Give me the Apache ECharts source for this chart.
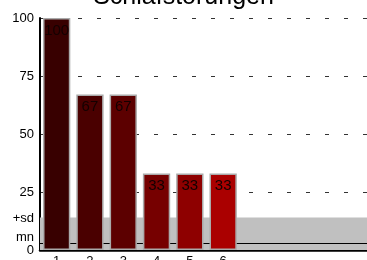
<!DOCTYPE html>
<html>
<head>
<meta charset="utf-8">
<script src="https://cdn.jsdelivr.net/npm/echarts@6/dist/echarts.min.js"></script>
<style>
html, body { margin: 0; padding: 0; background: #fff; }
#chart { width: 367px; height: 260px; }
</style>
</head>
<body>
<div id="chart"></div>
<script>
// Daten
const categories = ['1', '2', '3', '4', '5', '6', '', '', '', ''];
const values = [100, 67, 67, 33, 33, 33];
const barColors = ['#380000', '#4a0000', '#5c0000', '#760000', '#8e0000', '#aa0000'];
const yTicks = [0, 25, 50, 75, 100];
const meanValue = 3;
const sdValue = 14;

const chart = echarts.init(document.getElementById('chart'));

chart.setOption({
    animation: false,
    title: {
        text: 'Schlafstörungen',
        left: 'center',
        top: -20,
        textStyle: {
            color: '#000',
            fontSize: 25,
            fontWeight: 'normal',
            fontFamily: 'Liberation Sans, Arial, sans-serif'
        }
    },
    grid: {
        left: 40,
        right: -6,
        top: 18,
        bottom: 10,
        containLabel: false,
        outerBoundsMode: 'none'
    },
    xAxis: {
        type: 'category',
        data: categories,
        axisLine: { lineStyle: { color: '#000', width: 2.5 } },
        axisTick: { show: false },
        axisLabel: {
            color: '#000',
            fontSize: 13,
            margin: 5,
            fontFamily: 'Liberation Sans, Arial, sans-serif'
        }
    },
    yAxis: {
        type: 'value',
        min: 0,
        max: 100,
        interval: 25,
        axisLine: { show: true, lineStyle: { color: '#000', width: 2 } },
        axisTick: { show: false },
        axisLabel: {
            color: '#000',
            fontSize: 13,
            margin: 6,
            fontFamily: 'Liberation Sans, Arial, sans-serif',
            formatter: v => (yTicks.indexOf(v) >= 0 ? String(v) : '')
        },
        splitLine: {
            show: true,
            lineStyle: { color: '#333', type: [4, 15], width: 1 }
        }
    },
    series: [{
        type: 'line',
        data: [],
        z: 1,
        silent: true,
        markArea: {
            silent: true,
            itemStyle: { color: '#c0c0c0' },
            data: [[{ yAxis: 0 }, { yAxis: sdValue }]]
        },
        markLine: {
            silent: true,
            symbol: 'none',
            z: 1,
            lineStyle: { color: '#000', type: 'solid', width: 1.2 },
            label: {
                position: 'start',
                color: '#000',
                fontSize: 13,
                fontFamily: 'Liberation Sans, Arial, sans-serif',
                distance: 6
            },
            data: [
                { yAxis: meanValue, label: { formatter: 'mn', offset: [0, -6] } },
                { yAxis: sdValue, lineStyle: { color: 'rgba(0,0,0,0)' }, label: { formatter: '+sd', offset: [0, 1] } }
            ]
        }
    }, {
        type: 'bar',
        z: 3,
        barCategoryGap: '18%',
        data: values.map((v, i) => ({
            value: v,
            itemStyle: { color: barColors[i] }
        })),
        itemStyle: { borderColor: '#aaa', borderWidth: 1.5 },
        label: {
            show: true,
            position: 'insideTop',
            distance: 5,
            color: '#140000',
            fontSize: 15,
            fontFamily: 'Liberation Sans, Arial, sans-serif'
        }
    }]
});
</script>
</body>
</html>
